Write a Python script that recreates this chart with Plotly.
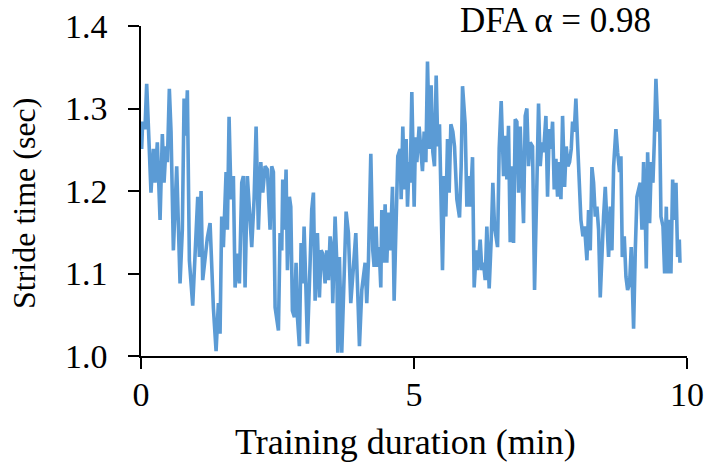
import plotly.graph_objects as go

# Training duration (min)
t1 = [0.012,0.030,0.073,0.104,0.135,0.183,0.226,0.256,0.299,0.349,0.391,0.422,0.458,0.483,0.519,0.550,
      0.593,0.654,0.715,0.757,0.789,0.819,0.849,0.886,0.947,0.989,1.039,1.069,1.100,1.130,1.173,1.215,
      1.265,1.296,1.326,1.375,1.417,1.448,1.478,1.509,1.558,1.582,1.613,1.649,1.692,1.723,1.766,1.802,
      1.845,1.875,1.906,1.948,1.986,2.028,2.071,2.108,2.150,2.194,2.230,2.273,2.315,2.364]
v1 = [1.251,1.284,1.275,1.330,1.279,1.198,1.251,1.210,1.259,1.165,1.269,1.210,1.254,1.235,1.324,1.272,
      1.128,1.230,1.088,1.153,1.312,1.267,1.322,1.116,1.061,1.120,1.193,1.120,1.200,1.092,1.120,1.143,
      1.161,1.096,1.058,1.006,1.064,1.027,1.169,1.132,1.223,1.153,1.290,1.190,1.218,1.083,1.124,1.088,
      1.210,1.218,1.083,1.218,1.181,1.132,1.190,1.278,1.153,1.235,1.198,1.230,1.226,1.153]

t2 = [2.394,2.425,2.456,2.517,2.547,2.578,2.596,2.627,2.657,2.682,2.718,2.743,2.773,2.810,2.840,2.865,
      2.901,2.932,2.963,2.987,3.018,3.048,3.097,3.127,3.158,3.189,3.231,3.268,3.299,3.329,3.372,3.402,
      3.433,3.463,3.494,3.512,3.555,3.586,3.604,3.634,3.677,3.720,3.757,3.799,3.842,3.891,3.934,3.964,
      4.001,4.044,4.074,4.105,4.135,4.166,4.209,4.245,4.270,4.306,4.331,4.361,4.392,4.410,4.441,4.471,
      4.502,4.532,4.563,4.606,4.636,4.673,4.703,4.746]
v2 = [1.230,1.223,1.059,1.031,1.149,1.128,1.214,1.153,1.226,1.104,1.193,1.181,1.055,1.047,1.113,1.047,
      1.012,1.137,1.088,1.157,1.088,1.015,1.113,1.177,1.198,1.067,1.149,1.071,1.128,1.124,1.088,1.128,
      1.092,1.145,1.128,1.064,1.169,1.113,1.004,1.120,1.004,1.113,1.175,1.149,1.064,1.108,1.149,1.088,
      1.012,1.080,1.096,1.113,1.064,1.116,1.245,1.128,1.108,1.157,1.108,1.132,1.083,1.177,1.113,1.184,
      1.113,1.174,1.128,1.205,1.067,1.169,1.242,1.251]

t3 = [4.765,4.795,4.826,4.856,4.881,4.911,4.929,4.960,5.003,5.027,5.052,5.094,5.125,5.155,5.186,5.217,
      5.247,5.284,5.314,5.345,5.375,5.406,5.436,5.467,5.522,5.552,5.583,5.614,5.644,5.675,5.711,5.742,
      5.785,5.834,5.864,5.889,5.937,5.968,6.011,6.029,6.072,6.102,6.139,6.169,6.212,6.243,6.273,6.304,
      6.334,6.377,6.414,6.444,6.475,6.530,6.560,6.597,6.640,6.670,6.701,6.731,6.762,6.793,6.823,6.854,
      6.884,6.915,6.945,6.982,7.006,7.037,7.067,7.098,7.128,7.171,7.208,7.251,7.281]
v3 = [1.190,1.278,1.202,1.263,1.181,1.235,1.210,1.320,1.181,1.265,1.235,1.278,1.242,1.224,1.272,1.235,
      1.357,1.251,1.328,1.247,1.230,1.340,1.254,1.281,1.104,1.218,1.169,1.263,1.198,1.281,1.272,1.254,
      1.190,1.168,1.230,1.327,1.281,1.181,1.218,1.181,1.241,1.083,1.128,1.104,1.141,1.104,1.113,1.092,
      1.157,1.082,1.141,1.210,1.157,1.132,1.251,1.309,1.218,1.267,1.214,1.279,1.138,1.230,1.137,1.287,
      1.284,1.198,1.278,1.218,1.161,1.291,1.300,1.230,1.259,1.254,1.080,1.210,1.306]

t4 = [7.312,7.342,7.373,7.416,7.446,7.477,7.507,7.538,7.568,7.599,7.629,7.660,7.691,7.721,7.758,7.788,
      7.819,7.849,7.880,7.904,7.935,7.965,7.996,8.026,8.057,8.094,8.124,8.167,8.197,8.228,8.259,8.289,
      8.320,8.350,8.381,8.411,8.442,8.472,8.503,8.533,8.564,8.595,8.625,8.656,8.698,8.729,8.766,8.790,
      8.815,8.851,8.882,8.912,8.949,8.979,9.022,9.053,9.083,9.114,9.144,9.175,9.205,9.236,9.254,9.279,
      9.315,9.346,9.376,9.401,9.431,9.468,9.499,9.523,9.560,9.590,9.621,9.645,9.682,9.706,9.737,9.767,
      9.798,9.828,9.859,9.871]
v4 = [1.230,1.259,1.247,1.291,1.193,1.275,1.251,1.284,1.202,1.239,1.193,1.235,1.190,1.291,1.205,1.254,
      1.230,1.235,1.251,1.284,1.272,1.312,1.259,1.218,1.165,1.145,1.157,1.116,1.177,1.128,1.229,1.210,
      1.169,1.181,1.153,1.071,1.137,1.169,1.205,1.157,1.120,1.181,1.128,1.230,1.275,1.247,1.223,1.242,
      1.120,1.145,1.096,1.080,1.088,1.132,1.033,1.128,1.193,1.202,1.210,1.153,1.235,1.169,1.106,1.247,
      1.161,1.235,1.210,1.259,1.336,1.272,1.287,1.169,1.157,1.100,1.181,1.100,1.165,1.100,1.214,1.165,
      1.210,1.120,1.141,1.113]

time_min = t1 + t2 + t3 + t4
stride_sec = v1 + v2 + v3 + v4

x_ticks = [0, 5, 10]
y_ticks = [1.0, 1.1, 1.2, 1.3, 1.4]
x_title = "Training duration (min)"
y_title = "Stride time (sec)"
annotation_text = "DFA α = 0.98"

FONT = "Liberation Serif, Times New Roman, serif"

fig = go.Figure()
fig.add_trace(go.Scatter(
    x=time_min, y=stride_sec, mode="lines",
    line=dict(color="#5B9BD5", width=3.6),
    hoverinfo="skip", showlegend=False,
))

fig.update_layout(
    width=706, height=463,
    margin=dict(l=141, r=19, t=26, b=107, pad=0),
    paper_bgcolor="white", plot_bgcolor="white",
    font=dict(family=FONT, size=30, color="black"),
    showlegend=False,
)
fig.update_xaxes(
    range=[0, 10], tickvals=x_ticks, ticktext=[str(v) for v in x_ticks],
    showgrid=False, zeroline=False, automargin=False,
    showline=True, linecolor="black", linewidth=1.5,
    ticks="outside", ticklen=11, tickwidth=1.5, tickcolor="black",
    tickfont=dict(family=FONT, size=34), ticklabelstandoff=-4,
)
fig.update_yaxes(
    range=[1.0, 1.4], tickvals=y_ticks, ticktext=[f"{v:.1f}" for v in y_ticks],
    showgrid=False, zeroline=False, automargin=False,
    showline=True, linecolor="black", linewidth=1.5,
    ticks="outside", ticklen=11, tickwidth=1.5, tickcolor="black",
    tickfont=dict(family=FONT, size=34), ticklabelstandoff=14,
)
fig.add_annotation(
    text=x_title, xref="paper", yref="paper", x=0.5, y=0,
    xanchor="center", yanchor="middle", xshift=-9, yshift=-86, showarrow=False,
    font=dict(family=FONT, size=36, color="black"),
)
fig.add_annotation(
    text=y_title, xref="paper", yref="paper", x=0, y=0.5, textangle=-90,
    xanchor="center", yanchor="middle", xshift=-117, yshift=-13, showarrow=False,
    font=dict(family=FONT, size=32, color="black"),
)
fig.add_annotation(
    text=annotation_text, xref="paper", yref="paper", x=0.760, y=1.0,
    xanchor="center", yanchor="middle", yshift=6, showarrow=False,
    font=dict(family=FONT, size=35, color="black"),
)

fig.write_html(
    "out.html",
    config={"displayModeBar": False},
    post_script="document.body.style.margin='0';document.body.style.overflow='hidden';",
)
